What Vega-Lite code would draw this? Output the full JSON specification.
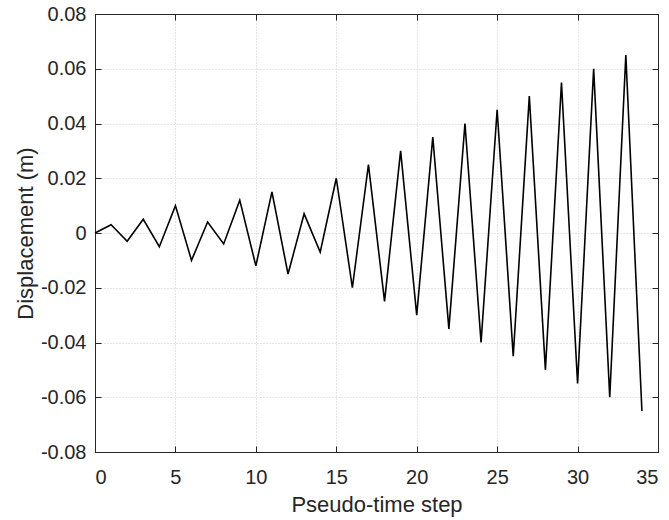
{
  "$schema": "https://vega.github.io/schema/vega-lite/v6.json",
  "width": 563,
  "height": 438,
  "autosize": "none",
  "padding": {"left": 95, "top": 14, "right": 11, "bottom": 68},
  "background": "white",
  "config": {
    "view": {"stroke": "#262626", "strokeWidth": 1},
    "font": "Liberation Sans",
    "axis": {
      "labelFont": "Liberation Sans",
      "titleFont": "Liberation Sans",
      "labelColor": "#262626",
      "titleColor": "#262626",
      "labelFontSize": 20,
      "titleFontSize": 22,
      "titleFontWeight": "normal",
      "domainColor": "#262626",
      "tickColor": "#262626",
      "tickSize": -6,
      "tickWidth": 1,
      "gridColor": "#cdcdcd",
      "gridDash": [1, 2],
      "gridWidth": 1
    }
  },
  "data": {
    "values": [
      {"step": 0, "disp": 0},
      {"step": 1, "disp": 0.003},
      {"step": 2, "disp": -0.003},
      {"step": 3, "disp": 0.005},
      {"step": 4, "disp": -0.005},
      {"step": 5, "disp": 0.01},
      {"step": 6, "disp": -0.01},
      {"step": 7, "disp": 0.004},
      {"step": 8, "disp": -0.004},
      {"step": 9, "disp": 0.012},
      {"step": 10, "disp": -0.012},
      {"step": 11, "disp": 0.015},
      {"step": 12, "disp": -0.015},
      {"step": 13, "disp": 0.007},
      {"step": 14, "disp": -0.007},
      {"step": 15, "disp": 0.02},
      {"step": 16, "disp": -0.02},
      {"step": 17, "disp": 0.025},
      {"step": 18, "disp": -0.025},
      {"step": 19, "disp": 0.03},
      {"step": 20, "disp": -0.03},
      {"step": 21, "disp": 0.035},
      {"step": 22, "disp": -0.035},
      {"step": 23, "disp": 0.04},
      {"step": 24, "disp": -0.04},
      {"step": 25, "disp": 0.045},
      {"step": 26, "disp": -0.045},
      {"step": 27, "disp": 0.05},
      {"step": 28, "disp": -0.05},
      {"step": 29, "disp": 0.055},
      {"step": 30, "disp": -0.055},
      {"step": 31, "disp": 0.06},
      {"step": 32, "disp": -0.06},
      {"step": 33, "disp": 0.065},
      {"step": 34, "disp": -0.065}
    ]
  },
  "layer": [
    {
      "mark": {"type": "line", "color": "black", "strokeWidth": 1.6},
      "encoding": {
        "x": {
          "field": "step", "type": "quantitative",
          "scale": {"domain": [0, 35], "nice": false},
          "axis": {"values": [0, 5, 10, 15, 20, 25, 30, 35], "title": "Pseudo-time step", "labelPadding": 21, "titlePadding": 7}
        },
        "y": {
          "field": "disp", "type": "quantitative",
          "scale": {"domain": [-0.08, 0.08], "nice": false},
          "axis": {
            "values": [-0.08, -0.06, -0.04, -0.02, 0, 0.02, 0.04, 0.06, 0.08],
            "labelExpr": "datum.value == 0 ? '0' : replace(format(datum.value, '.2f'), '\u2212', '-')",
            "title": "Displacement (m)", "labelPadding": 15, "titlePadding": 3
          }
        }
      }
    },
    {
      "mark": {"type": "line", "opacity": 0},
      "encoding": {
        "x": {
          "field": "step", "type": "quantitative",
          "axis": {"orient": "top", "values": [0, 5, 10, 15, 20, 25, 30, 35], "labels": false, "grid": false, "title": null}
        },
        "y": {
          "field": "disp", "type": "quantitative",
          "axis": {"orient": "right", "values": [-0.08, -0.06, -0.04, -0.02, 0, 0.02, 0.04, 0.06, 0.08], "labels": false, "grid": false, "title": null}
        }
      }
    }
  ],
  "resolve": {"axis": {"x": "independent", "y": "independent"}}
}
